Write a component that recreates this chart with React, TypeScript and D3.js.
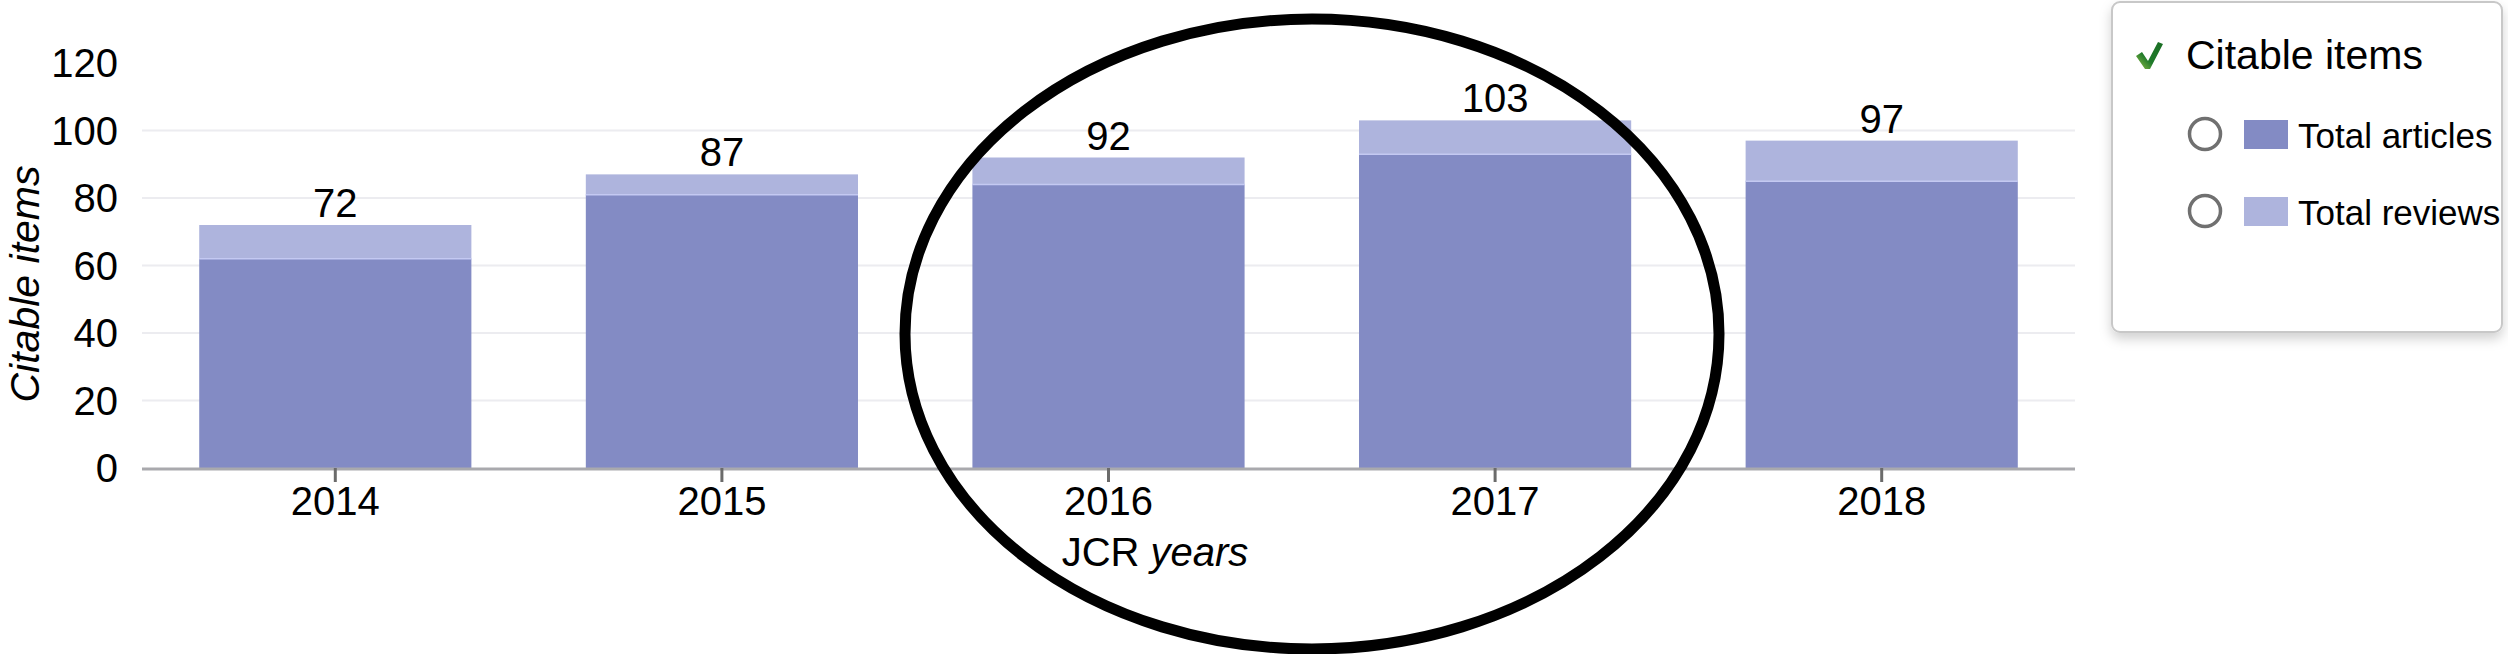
import React from "react";
import * as d3 from "d3";

const years = ["2014", "2015", "2016", "2017", "2018"];
const totalArticles = [62, 81, 84, 93, 85];
const totalReviews = [10, 6, 8, 10, 12];
const yTicks = [0, 20, 40, 60, 80, 100, 120];
const legendTitle = "Citable items";
const seriesNames = ["Total articles", "Total reviews"];
const yAxisTitle = "Citable items";
const xAxisTitleA = "JCR ";
const xAxisTitleB = "years";

const W = 2508;
const H = 654;
const FONT = "'Liberation Sans', Arial, Helvetica, sans-serif";
const COL_ART = "#838bc4";
const COL_REV = "#aeb4dd";

export default function App() {
  const x = d3
    .scaleBand<string>()
    .domain(years)
    .range([142, 2075])
    .paddingInner(0.296)
    .paddingOuter(0.148);
  const y = d3.scaleLinear().domain([0, 120]).range([468, 63]);
  const bw = x.bandwidth();

  return (
    <svg
      width={W}
      height={H}
      style={{ position: "absolute", left: 0, top: 0, background: "#fff" }}
      fontFamily={FONT}
    >
      <defs>
        <filter id="shadow" x="-10%" y="-10%" width="130%" height="140%">
          <feDropShadow dx="0" dy="6" stdDeviation="6" floodColor="#000" floodOpacity="0.18" />
        </filter>
        <linearGradient id="chk" x1="0" y1="1" x2="1" y2="0">
          <stop offset="0" stopColor="#9bc24a" />
          <stop offset="0.4" stopColor="#1f7a2a" />
          <stop offset="1" stopColor="#1b6e25" />
        </linearGradient>
      </defs>
      <rect x={0} y={0} width={W} height={H} fill="#fff" />

      {/* gridlines */}
      {yTicks
        .filter((t) => t > 0 && t < 120)
        .map((t) => (
          <line key={"g" + t} x1={142} x2={2075} y1={y(t)} y2={y(t)} stroke="#ececf0" strokeWidth={2} />
        ))}

      {/* y tick labels */}
      {yTicks.map((t) => (
        <text
          key={"yt" + t}
          x={118}
          y={y(t)}
          textAnchor="end"
          dominantBaseline="central"
          fontSize={40}
          fill="#000"
        >
          {t}
        </text>
      ))}

      {/* y axis title */}
      <text
        transform={`translate(39, 284) rotate(-90)`}
        textAnchor="middle"
        fontSize={41}
        fontStyle="italic"
        fill="#000"
      >
        {yAxisTitle}
      </text>

      {/* bars */}
      {years.map((yr, i) => {
        const x0 = x(yr)!;
        const a = totalArticles[i];
        const r = totalReviews[i];
        const tot = a + r;
        return (
          <g key={"b" + yr}>
            <rect x={x0} y={y(a)} width={bw} height={y(0) - y(a)} fill={COL_ART} />
            <rect x={x0} y={y(tot)} width={bw} height={y(a) - y(tot)} fill={COL_REV} />
            <line x1={x0} x2={x0 + bw} y1={y(a)} y2={y(a)} stroke="#c4c9f2" strokeWidth={1.5} />
            <text x={x0 + bw / 2} y={y(tot) - 8} textAnchor="middle" fontSize={40} fill="#000">
              {tot}
            </text>
          </g>
        );
      })}

      {/* x axis */}
      <line x1={142} x2={2075} y1={y(0) + 1} y2={y(0) + 1} stroke="#a9a9ad" strokeWidth={3} />
      {years.map((yr) => {
        const cx = x(yr)! + bw / 2;
        return (
          <g key={"xt" + yr}>
            <line x1={cx} x2={cx} y1={y(0)} y2={y(0) + 14} stroke="#6b6b6b" strokeWidth={3} />
            <text x={cx} y={515} textAnchor="middle" fontSize={40} fill="#000">
              {yr}
            </text>
          </g>
        );
      })}

      {/* x axis title */}
      <text x={1155} y={566} textAnchor="middle" fontSize={40} fill="#000">
        {xAxisTitleA}
        <tspan fontStyle="italic">{xAxisTitleB}</tspan>
      </text>

      {/* hand-drawn ellipse annotation */}
      <ellipse cx={1312} cy={334} rx={407} ry={315} fill="none" stroke="#000" strokeWidth={11} />

      {/* legend */}
      <rect
        x={2112}
        y={2}
        width={390}
        height={330}
        rx={8}
        ry={8}
        fill="#fff"
        stroke="#c8c8c8"
        strokeWidth={2}
        filter="url(#shadow)"
      />
      <path
        d="M2136,56 L2142,52 L2148,61 L2158,42 L2163,44 L2150,69 L2145,69 Z"
        fill="url(#chk)"
      />
      <text x={2186} y={69} fontSize={41} fill="#000">
        {legendTitle}
      </text>
      {seriesNames.map((name, i) => {
        const cy = 134 + i * 77;
        return (
          <g key={"lg" + name}>
            <circle cx={2205} cy={cy} r={15.5} fill="#fff" stroke="#707070" strokeWidth={3.5} />
            <rect x={2244} y={cy - 14} width={44} height={29} fill={i === 0 ? COL_ART : COL_REV} />
            <text x={2298} y={cy + 14} fontSize={35} fill="#000">
              {name}
            </text>
          </g>
        );
      })}
    </svg>
  );
}
